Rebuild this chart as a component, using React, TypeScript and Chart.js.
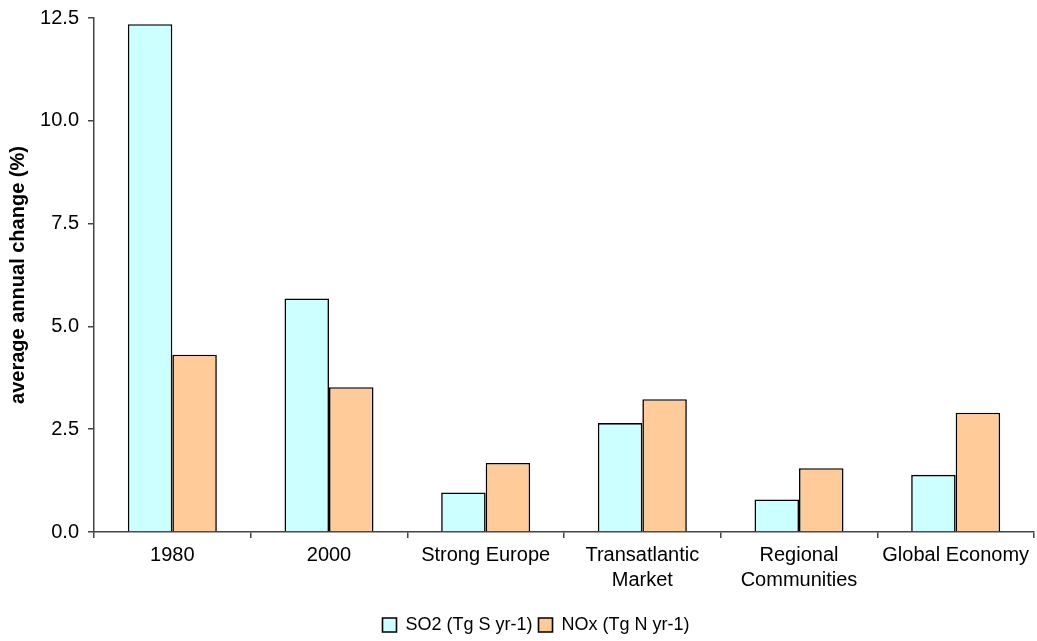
import React, { useEffect, useRef } from "react";
import { Chart, registerables } from "chart.js";

Chart.register(...registerables);

const categories: (string | string[])[] = [
  "1980",
  "2000",
  "Strong Europe",
  ["Transatlantic", "Market"],
  ["Regional", "Communities"],
  "Global Economy",
];
const so2Values = [12.35, 5.68, 0.96, 2.65, 0.79, 1.39];
const noxValues = [4.31, 3.52, 1.68, 3.23, 1.55, 2.9];
const seriesNames = ["SO2 (Tg S yr-1)", "NOx (Tg N yr-1)"];
const yTitle = "average annual change (%)";

const FONT = "Arial, 'Liberation Sans', sans-serif";
const AXIS_COLOR = "#444";

export default function App() {
  const ref = useRef<HTMLCanvasElement | null>(null);
  useEffect(() => {
    document.body.style.margin = "0";
    const canvas = ref.current;
    if (!canvas) return;
    const shiftLegend = {
      id: "shiftLegend",
      afterLayout(chart: any) {
        if (chart.legend) {
          chart.legend.left += 19;
          chart.legend.right += 19;
          chart.legend.top += 3;
          chart.legend.bottom += 3;
        }
      },
    };
    const chart = new Chart(canvas, {
      type: "bar",
      data: {
        labels: categories,
        datasets: [
          {
            label: seriesNames[0],
            data: so2Values,
            backgroundColor: "#CCFFFF",
            borderColor: "#000",
            borderWidth: 1.6,
            barPercentage: 1,
            categoryPercentage: 0.568,
          },
          {
            label: seriesNames[1],
            data: noxValues,
            backgroundColor: "#FFCC99",
            borderColor: "#000",
            borderWidth: 1.6,
            barPercentage: 1,
            categoryPercentage: 0.568,
          },
        ],
      },
      options: {
        responsive: false,
        animation: false,
        layout: { padding: { top: 18, right: 3, left: 0, bottom: 0 } },
        plugins: {
          tooltip: { enabled: false },
          legend: {
            position: "bottom",
            labels: {
              boxWidth: 14,
              boxHeight: 14,
              color: "#000",
              font: { family: FONT, size: 18 },
              padding: 6,
            },
          },
        },
        scales: {
          x: {
            grid: {
              offset: true,
              drawOnChartArea: false,
              drawTicks: true,
              tickLength: 6,
              color: AXIS_COLOR,
              lineWidth: 1.5,
            },
            border: { color: AXIS_COLOR, width: 1.5 },
            ticks: {
              color: "#000",
              font: { family: FONT, size: 20, lineHeight: 1.25 },
              padding: 5,
              maxRotation: 0,
              autoSkip: false,
            },
            afterFit(scale: any) {
              scale.height = 75;
              scale.paddingLeft = 0;
              scale.paddingRight = 0;
            },
          },
          y: {
            min: 0,
            max: 12.5,
            grid: {
              drawOnChartArea: false,
              drawTicks: true,
              tickLength: 6,
              color: AXIS_COLOR,
              lineWidth: 1.5,
            },
            border: { color: AXIS_COLOR, width: 1.5 },
            ticks: {
              stepSize: 2.5,
              color: "#000",
              font: { family: FONT, size: 20 },
              padding: 9,
              callback: (v: any) => Number(v).toFixed(1),
            },
            title: {
              display: true,
              text: yTitle,
              color: "#000",
              font: { family: FONT, size: 20, weight: "bold" },
              padding: { top: 6, bottom: 0 },
            },
            afterFit(scale: any) {
              scale.width = 94;
              scale.paddingTop = 0;
              scale.paddingBottom = 0;
            },
          },
        },
      },
      plugins: [shiftLegend],
    } as any);
    return () => chart.destroy();
  }, []);
  return (
    <div style={{ width: 1037, height: 641 }}>
      <canvas ref={ref} width={1037} height={641} style={{ display: "block" }} />
    </div>
  );
}
